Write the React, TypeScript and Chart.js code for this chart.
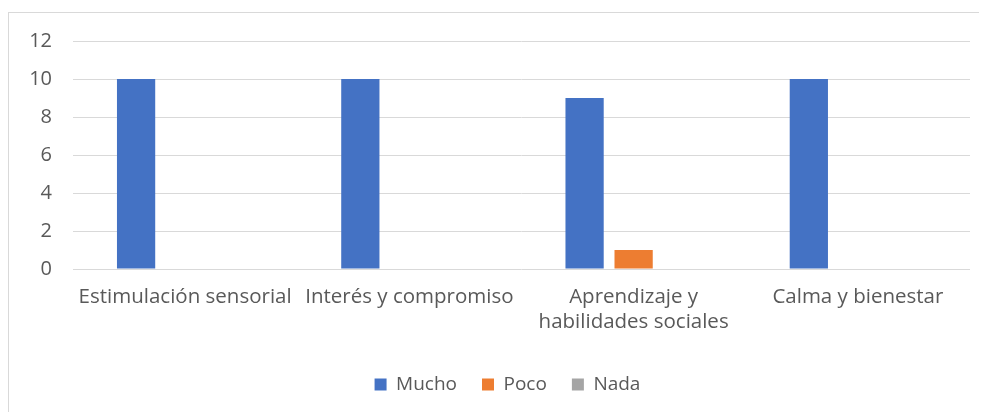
import React, { useEffect, useRef } from "react";
import { Chart, registerables } from "chart.js";

Chart.register(...registerables);

const categories: (string | string[])[] = [
  "Estimulación sensorial",
  "Interés y compromiso",
  ["Aprendizaje y", "habilidades sociales"],
  "Calma y bienestar",
];
const mucho = [10, 10, 9, 10];
const poco = [0, 0, 1, 0];
const nada = [0, 0, 0, 0];
const yTicks = [0, 2, 4, 6, 8, 10, 12];

const FONT = "'Open Sans', 'Liberation Sans', sans-serif";
const TEXT = "#595959";

const legendShift = {
  id: "legendShift",
  afterLayout(chart: any) {
    const lg = chart.legend;
    if (lg) {
      lg.left += 18;
      lg.right += 18;
    }
  },
};

export default function App() {
  const ref = useRef<HTMLCanvasElement | null>(null);
  useEffect(() => {
    document.body.style.overflow = "hidden";
    const ctx = ref.current!;
    const chart = new Chart(ctx, {
      type: "bar",
      data: {
        labels: categories,
        datasets: [
          { label: "Mucho", data: mucho, backgroundColor: "#4472C4" },
          { label: "Poco", data: poco, backgroundColor: "#ED7D31" },
          { label: "Nada", data: nada, backgroundColor: "#A5A5A5" },
        ],
      },
      plugins: [legendShift],
      options: {
        animation: false,
        responsive: false,
        maintainAspectRatio: false,
        layout: { padding: { top: 28, right: 17, bottom: 8, left: 0 } },
        datasets: { bar: { categoryPercentage: 0.656, barPercentage: 0.78 } },
        plugins: {
          tooltip: { enabled: false },
          legend: {
            position: "bottom",
            labels: {
              color: TEXT,
              font: { family: FONT, size: 19 },
              boxWidth: 12,
              boxHeight: 12,
              padding: 25,
            },
          },
        },
        scales: {
          x: {
            grid: { display: false, drawTicks: false },
            border: { display: false },
            ticks: {
              color: TEXT,
              font: { family: FONT, size: 20.5 },
              maxRotation: 0,
              autoSkip: false,
              padding: 16,
            },
            afterFit: (s: any) => {
              s.height = 81;
            },
          },
          y: {
            min: 0,
            max: 12,
            afterBuildTicks: (s: any) => {
              s.ticks = yTicks.map((v) => ({ value: v }));
            },
            grid: { color: "#D9D9D9", lineWidth: 1, drawTicks: false },
            border: { display: false },
            ticks: {
              color: TEXT,
              font: { family: FONT, size: 20 },
              padding: 21,
            },
            afterFit: (s: any) => {
              s.width = 64;
              s.paddingTop = 0;
              s.paddingBottom = 0;
            },
          },
        },
      },
    });
    return () => chart.destroy();
  }, []);
  return (
    <div
      style={{
        marginTop: 4,
        width: 979,
        height: 400,
        borderTop: "1px solid #D9D9D9",
        borderLeft: "1px solid #D9D9D9",
        boxSizing: "border-box",
        background: "#fff",
      }}
    >
      <canvas ref={ref} width={978} height={399} style={{ display: "block" }} />
    </div>
  );
}
